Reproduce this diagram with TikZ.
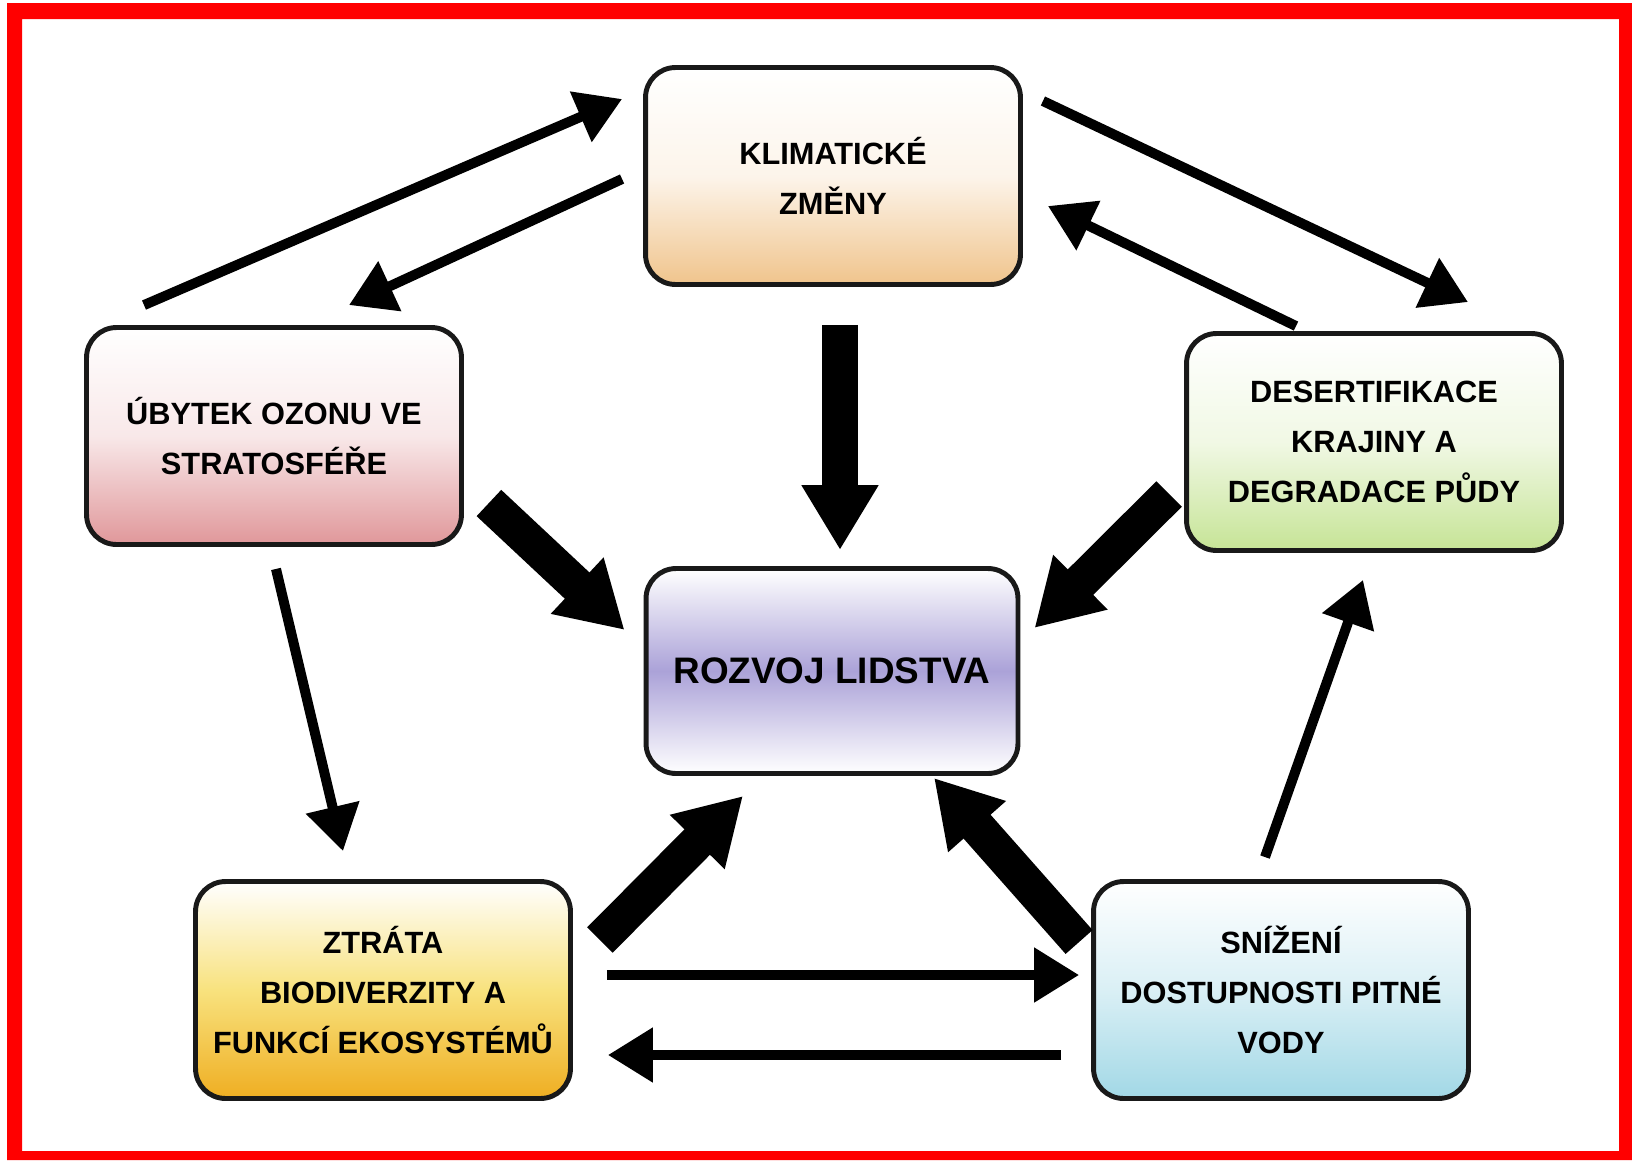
\documentclass[tikz,border=0pt]{standalone}
\usepackage{fontspec}
\setmainfont{Liberation Sans}
\usetikzlibrary{arrows.meta}
\definecolor{klimacol}{HTML}{F0C48C}
\definecolor{ozoncol}{HTML}{E0979A}
\definecolor{poustcol}{HTML}{C6E496}
\definecolor{rozvojcol}{HTML}{ABA2D8}
\definecolor{biodivmid}{HTML}{F8E27E}
\definecolor{biodivcol}{HTML}{EFAE22}
\definecolor{vodacol}{HTML}{A2D8E6}
\tikzset{
  boxnode/.style = {rectangle, rounded corners=0.6cm, draw=black!90, line width=2.8pt, inner sep=0pt,
    minimum width=7.5cm, minimum height=4.34cm, align=center, font=\fontsize{17.5}{28.5}\selectfont\bfseries},
  thin_arrow/.style = {line width=0.2cm, -{Triangle[length=0.9cm,width=1.05cm]}},
  thick_arrow/.style = {line width=0.72cm, -{Triangle[length=1.3cm,width=1.45cm]}}
}
\begin{document}
\begin{tikzpicture}[x=0.02cm, y=-0.02cm]
  \useasboundingbox (0,0) rectangle (1632,1160);
  \fill[white] (0,0) rectangle (1632,1160);
  \fill[red, even odd rule] (7,3) rectangle (1632,1160) (22,19) rectangle (1619,1151);

  % boxes
  \node [boxnode, top color=white, bottom color=klimacol, middle color=klimacol!18] (klima) at (833,176) {KLIMATICKÉ\\ZMĚNY};
  \node [boxnode, top color=white, bottom color=ozoncol, middle color=ozoncol!22] (ozon) at (274,436) {ÚBYTEK OZONU VE\\STRATOSFÉŘE};
  \node [boxnode, top color=white, bottom color=poustcol, middle color=poustcol!25] (poust) at (1374,442) {DESERTIFIKACE\\KRAJINY A\\DEGRADACE PŮDY};
  \node [boxnode, minimum width=7.44cm, minimum height=4.1cm, font=\fontsize{21}{28}\selectfont\bfseries,
    top color=white, bottom color=white, middle color=rozvojcol] (rozvoj) at (832,671) {ROZVOJ LIDSTVA};
  \node [boxnode, top color=white, bottom color=biodivcol, middle color=biodivmid] (biodiv) at (383,990) {ZTRÁTA\\BIODIVERZITY A\\FUNKCÍ EKOSYSTÉMŮ};
  \node [boxnode, top color=white, bottom color=vodacol, middle color=vodacol!40] (voda) at (1281,990) {SNÍŽENÍ\\DOSTUPNOSTI PITNÉ\\VODY};

  % thin arrows
  \draw [thin_arrow] ([shift={(-130,-20)}]ozon.north) -- ([shift={(-21,-77)}]klima.west);
  \draw [thin_arrow] ([shift={(-21,3)}]klima.west) -- ([shift={(75,-20)}]ozon.north);
  \draw [thin_arrow] ([shift={(20,-75)}]klima.east) -- ([shift={(94,-29)}]poust.north);
  \draw [thin_arrow] ([shift={(-78,-5)}]poust.north) -- ([shift={(25,30)}]klima.east);
  \draw [thin_arrow] ([shift={(2,22)}]ozon.south) -- ([shift={(-40,-28)}]biodiv.north);
  \draw [thin_arrow] ([shift={(-16,-22)}]voda.north) -- ([shift={(-11,27)}]poust.south);
  \draw [thin_arrow] ([shift={(34,-15)}]biodiv.east) -- ([shift={(-12,-15)}]voda.west);
  \draw [thin_arrow] ([shift={(-30,65)}]voda.west) -- ([shift={(35,65)}]biodiv.east);

  % thick arrows into the centre
  \draw [thick_arrow] ([shift={(7,38)}]klima.south) -- ([shift={(8,-16)}]rozvoj.north);
  \draw [thick_arrow] ([shift={(25,67)}]ozon.east) -- ([shift={(-19,-41)}]rozvoj.west);
  \draw [thick_arrow] ([shift={(-15,52)}]poust.west) -- ([shift={(14,-43)}]rozvoj.east);
  \draw [thick_arrow] ([shift={(27,-50)}]biodiv.east) -- ([shift={(-89,20)}]rozvoj.south);
  \draw [thick_arrow] ([shift={(-12,-48)}]voda.west) -- ([shift={(102,2)}]rozvoj.south);
\end{tikzpicture}
\end{document}
